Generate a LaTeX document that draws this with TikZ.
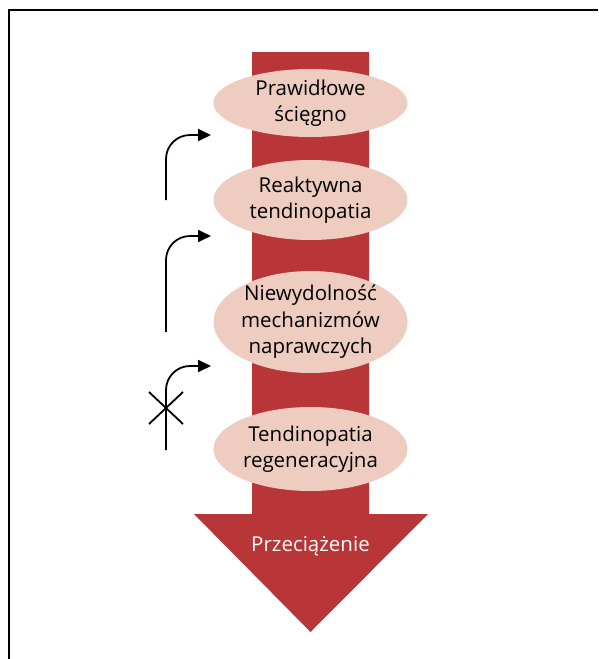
\documentclass[tikz,border=0pt]{standalone}
\usepackage{fontspec}
\setmainfont{Open Sans}
\usetikzlibrary{shapes.geometric,arrows.meta,calc}
\definecolor{loadred}{RGB}{184,54,56}
\definecolor{stagepink}{RGB}{238,204,192}

\begin{document}
\begin{tikzpicture}
[
	x=1pt,y=-1pt,
	stage/.style={ellipse,fill=stagepink,inner sep=-8pt,minimum width=194pt,align=center,font=\fontsize{20.5}{26.5}\selectfont},
	flow/.style={-{Triangle[length=13pt,width=12pt]},line width=1.8pt,rounded corners=24pt},
	strike/.style={line width=1.8pt}
]
	\useasboundingbox (0,0) rectangle (598,659);

	% frame
	\draw[line width=2.2pt] (598,10) -- (9,10) -- (9,659);

	% overload arrow
	\fill[loadred] (252,52) -- (369,52) -- (369,514) -- (428,514) -- (310.5,632)
		-- (194,514) -- (252,514) -- cycle;
	\node[text=white,font=\fontsize{20.5}{26}\selectfont] at (310.5,546) (load) {Przeciążenie};

	% stages
	\node[stage,minimum height=68pt] at (310.5,103) (s1) {Prawidłowe\\ścięgno};
	\node[stage,minimum height=80pt] at (310.5,200) (s2) {Reaktywna\\tendinopatia};
	\node[stage,minimum height=102pt] at (310.5,322) (s3) {Niewydolność\\mechanizmów\\naprawczych};
	\node[stage,minimum height=84pt] at (310.5,449) (s4) {Tendinopatia\\regeneracyjna};

	% recovery arrows
	\coordinate (a1) at (166,200);
	\coordinate (b1) at (211,135);
	\coordinate (a2) at (166,332);
	\coordinate (b2) at (211,236);
	\coordinate (a3) at (166,450);
	\coordinate (b3) at (211,366);
	\draw[flow] (a1) |- (b1);
	\draw[flow] (a2) |- (b2);
	\draw[flow] (a3) |- (b3);

	% blocked
	\coordinate (x3) at (166,408);
	\draw[strike] ($(x3)+(-17,-16)$) -- ($(x3)+(17,16)$);
	\draw[strike] ($(x3)+(-17,16)$) -- ($(x3)+(17,-16)$);

\end{tikzpicture}
\end{document}
